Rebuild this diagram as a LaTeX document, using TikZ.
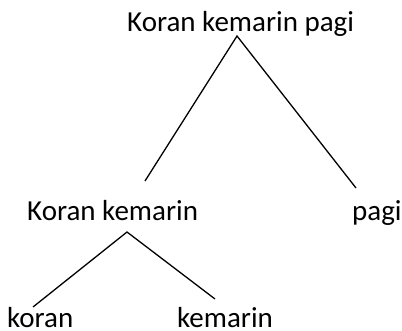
\documentclass[tikz,border=0pt]{standalone}
\usepackage{fontspec}
\setmainfont{Carlito}
\begin{document}
\begin{tikzpicture}[x=1pt,y=-1pt,
  lbl/.style={inner sep=0pt,anchor=base west,font=\fontsize{29}{34}\selectfont},
  leaf/.style={lbl,text depth=0pt},
  edge/.style={line width=1.3pt}]
\useasboundingbox (0,0) rectangle (402,331);
\node[lbl] (root) at (127,32) {Koran kemarin pagi};
\node[lbl] (kk) at (27,221) {Koran kemarin};
\node[lbl] (pagi) at (352,221) {pagi};
\node[leaf] (koran) at (7,328) {koran};
\node[leaf] (kemarin) at (177,328) {kemarin};
\coordinate (rootb) at (237,36);
\coordinate (kkt) at (145,181);
\coordinate (pagit) at (356,188);
\coordinate (kkb) at (127,232);
\coordinate (korant) at (33,307);
\coordinate (kemarint) at (215,299);
\draw[edge] (kkt) -- (rootb) -- (pagit);
\draw[edge] (korant) -- (kkb) -- (kemarint);
\end{tikzpicture}
\end{document}
